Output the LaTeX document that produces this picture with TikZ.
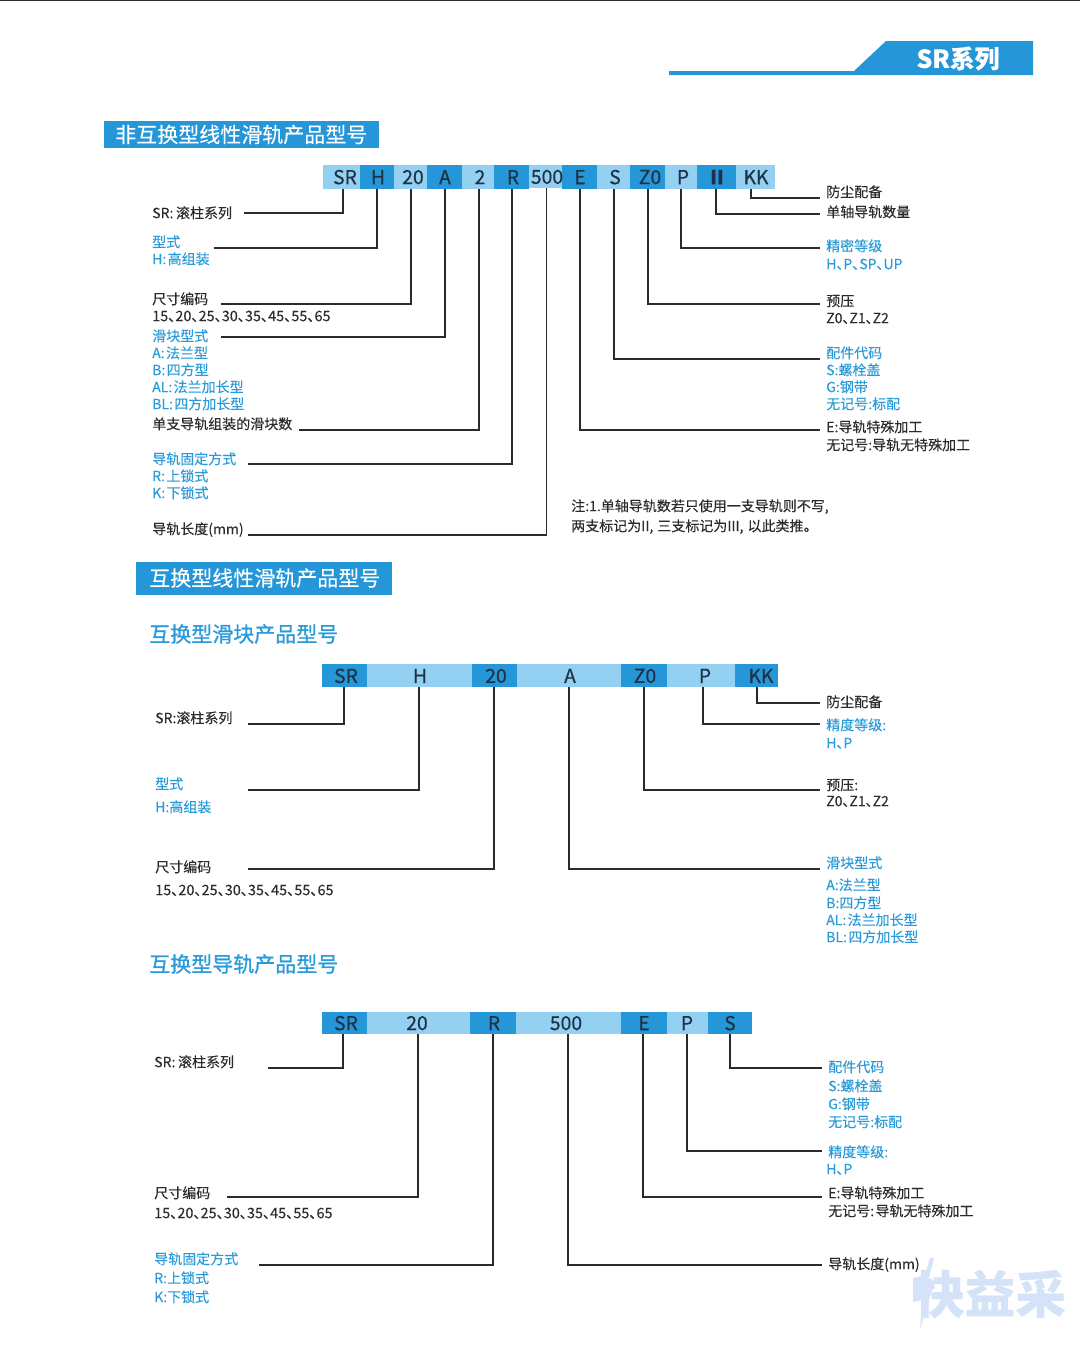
\documentclass[tikz,border=0pt]{standalone}
\usepackage{fontspec}
\setmainfont[RawFeature={+palt},FakeBold=0.12]{Noto Sans CJK SC}
\newfontfamily\subf[RawFeature={+palt},FakeBold=1.0]{Noto Sans CJK SC}
\newfontfamily\cellf[RawFeature={+palt},FakeBold=0.4]{Noto Sans CJK SC}
\definecolor{bluedark}{HTML}{2596D8}
\definecolor{bluelight}{HTML}{93D0F2}
\definecolor{bluetext}{HTML}{2A9BD8}
\definecolor{inkc}{HTML}{2B2B2B}
\definecolor{cellink}{HTML}{1F3245}
\definecolor{wm}{HTML}{D5E3F8}
\newcommand{\cn}{\hspace{1pt}}
\newcommand{\numfont}{\fontsize{10.8pt}{12pt}\selectfont}
\tikzset{
 lab/.style={anchor=west,inner sep=0pt,font=\fontsize{10.5pt}{12pt}\selectfont,text=inkc,text height=9.9pt,text depth=2.2pt},
 bluelab/.style={lab,text=bluetext},
 conn/.style={draw=inkc,line width=1.1pt,line join=miter},
 celltext/.style={inner sep=0pt,yshift=-0.3pt,font=\cellf\fontsize{14.5pt}{16pt}\selectfont,text=cellink},
 banner/.style={inner sep=0pt,font=\fontsize{15.75pt}{18pt}\selectfont,text=white,anchor=west},
 subtitle/.style={inner sep=0pt,anchor=west,font=\subf\fontsize{15.75pt}{18pt}\selectfont,text=bluetext},
}
% name, x0, x1, ytop, ybottom, fill, text x, text
\newcommand{\mycell}[8]{%
 \path[fill=#6] (#2,#4) rectangle (#3,#5);
 \path (#2,#4) -- (#3,#5) coordinate[midway] (#1-c);
 \node[inner sep=0pt,outer sep=0pt,minimum width=#3*0.75pt-#2*0.75pt,minimum height=#5*0.75pt-#4*0.75pt] (#1) at (#1-c) {};
 \node[celltext] (#1-t) at (#7,#4/2+#5/2) {#8};
}
\begin{document}
\begin{tikzpicture}[x=0.75pt,y=-0.75pt]
\useasboundingbox (0,0) rectangle (1080,1346);
% top rule and tab
\fill[inkc] (0,0) rectangle (1080,1.2);
\fill[bluedark] (669,71) -- (854,71) -- (886,41) -- (1033,41) -- (1033,75) -- (669,75) -- cycle;
\node[inner sep=0pt,font=\fontsize{18.6pt}{22pt}\selectfont\bfseries,text=white] (tab) at (958,58.5) {SR系列};

% ===== Section 1 =====
\fill[bluedark] (104,121) rectangle (379,148);
\node[banner] (h1) at (115,134.5) {非互换型线性滑轨产品型号};

\mycell{a1}{323}{360}{165}{188.5}{bluelight}{345}{SR}
\mycell{a2}{360}{394}{165}{188.5}{bluedark}{378}{H}
\mycell{a3}{394}{427}{165}{188.5}{bluelight}{413}{20}
\mycell{a4}{427}{462}{165}{188.5}{bluedark}{445}{A}
\mycell{a5}{462}{494}{165}{188.5}{bluelight}{480}{2}
\mycell{a6}{494}{529}{165}{188.5}{bluedark}{513}{R}
\mycell{a8}{562}{597}{165}{188.5}{bluedark}{580}{E}
\mycell{a7}{529}{562}{165}{188}{bluelight}{547}{500}
\mycell{a9}{597}{630}{165}{188.5}{bluelight}{615}{S}
\mycell{a10}{630}{665}{165}{188.5}{bluedark}{650}{Z0}
\mycell{a11}{665}{697}{165}{188.5}{bluelight}{683}{P}
\mycell{a12}{697}{736}{165}{188.5}{bluedark}{717}{\bfseries II}
\mycell{a13}{736}{775}{165}{188.5}{bluelight}{756}{KK}

\node[lab] (l1) at (152,213) {SR:\cn\cn 滚柱系列};
\node[bluelab] (l2a) at (152,242) {型式};
\node[bluelab] (l2b) at (152,259) {H:\cn 高组装};
\node[lab] (l3a) at (152,299) {尺寸编码};
\node[lab] (l3b) at (152,316) {\numfont 15、20、25、30、35、45、55、65};
\node[bluelab] (l4a) at (152,336) {滑块型式};
\node[bluelab] (l4b) at (152,353) {A:\cn 法兰型};
\node[bluelab] (l4c) at (152,370) {B:\cn 四方型};
\node[bluelab] (l4d) at (152,387) {AL:\cn 法兰加长型};
\node[bluelab] (l4e) at (152,404) {BL:\cn 四方加长型};
\node[lab] (l5) at (152,424) {单支导轨组装的滑块数};
\node[bluelab] (l6a) at (152,459) {导轨固定方式};
\node[bluelab] (l6b) at (152,476) {R:\cn 上锁式};
\node[bluelab] (l6c) at (152,493) {K:\cn 下锁式};
\node[lab] (l7) at (152,529) {导轨长度(mm)};

\node[lab] (r1) at (826,192) {防尘配备};
\node[lab] (r2) at (826,212) {单轴导轨数量};
\node[bluelab] (r3a) at (826,246) {精密等级};
\node[bluelab] (r3b) at (826,264) {H、P、SP、UP};
\node[lab] (r4a) at (826,301) {预压};
\node[lab] (r4b) at (826,318) {Z0、Z1、Z2};
\node[bluelab] (r5a) at (826,353) {配件代码};
\node[bluelab] (r5b) at (826,370) {S:螺栓盖};
\node[bluelab] (r5c) at (826,387) {G:钢带};
\node[bluelab] (r5d) at (826,404) {无记号:标配};
\node[lab] (r6a) at (826,427) {E:导轨特殊加工};
\node[lab] (r6b) at (826,445) {无记号:导轨无特殊加工};
\node[lab] (n1) at (571,506) {注:1.单轴导轨数若只使用一支导轨则不写,};
\node[lab] (n2) at (571,526) {两支标记为II,\hspace{3pt}三支标记为III,\hspace{3pt}以此类推。};

\coordinate (p1) at (244,213);
\coordinate (p2) at (214,248);
\coordinate (p3) at (221,304);
\coordinate (p4) at (221,337);
\coordinate (p5) at (299,430);
\coordinate (p6) at (248,464);
\coordinate (p7) at (248,535);
\coordinate (q1) at (820,198);
\coordinate (q2) at (820,214);
\coordinate (q3) at (820,248);
\coordinate (q4) at (820,304);
\coordinate (q5) at (820,359);
\coordinate (q6) at (820,430);
\draw[conn] (p1) -| (343,0 |- a1.south);
\draw[conn] (p2) -| (377,0 |- a2.south);
\draw[conn] (p3) -| (411,0 |- a3.south);
\draw[conn] (p4) -| (445,0 |- a4.south);
\draw[conn] (p5) -| (479,0 |- a5.south);
\draw[conn] (p6) -| (512,0 |- a6.south);
\draw[conn] (p7) -| (546.5,0 |- a7.south);
\draw[conn] (q1) -| (751,0 |- a13.south);
\draw[conn] (q2) -| (716,0 |- a12.south);
\draw[conn] (q3) -| (681,0 |- a11.south);
\draw[conn] (q4) -| (648,0 |- a10.south);
\draw[conn] (q5) -| (614,0 |- a9.south);
\draw[conn] (q6) -| (580,0 |- a8.south);

% ===== Section 2 =====
\fill[bluedark] (136,562) rectangle (392,595);
\node[banner] (h2) at (149,578) {互换型线性滑轨产品型号};
\node[subtitle] (s1) at (149,634) {互换型滑块产品型号};

\mycell{b1}{322}{367}{664}{687}{bluedark}{346}{SR}
\mycell{b2}{367}{472}{664}{687}{bluelight}{420}{H}
\mycell{b3}{472}{517}{664}{687}{bluedark}{496}{20}
\mycell{b4}{517}{621}{664}{687}{bluelight}{570}{A}
\mycell{b5}{621}{667}{664}{687}{bluedark}{645}{Z0}
\mycell{b6}{667}{735}{664}{687}{bluelight}{705}{P}
\mycell{b7}{735}{778}{664}{687}{bluedark}{761}{KK}

\node[lab] (m1) at (155,718) {SR:滚柱系列};
\node[bluelab] (m2a) at (155,784) {型式};
\node[bluelab] (m2b) at (155,807) {H:高组装};
\node[lab] (m3a) at (155,867) {尺寸编码};
\node[lab] (m3b) at (155,890) {\numfont 15、20、25、30、35、45、55、65};
\node[lab] (t1) at (826,702) {防尘配备};
\node[bluelab] (t2a) at (826,725) {精度等级:};
\node[bluelab] (t2b) at (826,743) {H、P};
\node[lab] (t3a) at (826,785) {预压:};
\node[lab] (t3b) at (826,801) {Z0、Z1、Z2};
\node[bluelab] (t4a) at (826,863) {滑块型式};
\node[bluelab] (t4b) at (826,885) {A:法兰型};
\node[bluelab] (t4c) at (826,903) {B:四方型};
\node[bluelab] (t4d) at (826,920) {AL:\cn 法兰加长型};
\node[bluelab] (t4e) at (826,937) {BL:\cn 四方加长型};

\coordinate (u1) at (248,724);
\coordinate (u2) at (248,790);
\coordinate (u3) at (248,869);
\coordinate (v1) at (820,703);
\coordinate (v2) at (820,724);
\coordinate (v3) at (820,790);
\coordinate (v4) at (820,869);
\draw[conn] (u1) -| (344,0 |- b1.south);
\draw[conn] (u2) -| (419,0 |- b2.south);
\draw[conn] (u3) -| (494,0 |- b3.south);
\draw[conn] (v4) -| (569,0 |- b4.south);
\draw[conn] (v3) -| (644,0 |- b5.south);
\draw[conn] (v2) -| (703,0 |- b6.south);
\draw[conn] (v1) -| (757,0 |- b7.south);

% ===== Section 3 =====
\node[subtitle] (s2) at (149,964) {互换型导轨产品型号};

\mycell{c1}{322}{367}{1012}{1033.5}{bluedark}{346}{SR}
\mycell{c2}{367}{470}{1012}{1033.5}{bluelight}{417}{20}
\mycell{c3}{470}{516}{1012}{1033.5}{bluedark}{494}{R}
\mycell{c4}{516}{621}{1012}{1033.5}{bluelight}{566}{500}
\mycell{c5}{621}{667}{1012}{1033.5}{bluedark}{644}{E}
\mycell{c6}{667}{708}{1012}{1033.5}{bluelight}{687}{P}
\mycell{c7}{708}{752}{1012}{1033.5}{bluedark}{730}{S}

\node[lab] (w1) at (154,1062) {SR:\cn\cn 滚柱系列};
\node[lab] (w2a) at (154,1193) {尺寸编码};
\node[lab] (w2b) at (154,1213) {\numfont 15、20、25、30、35、45、55、65};
\node[bluelab] (w3a) at (154,1259) {导轨固定方式};
\node[bluelab] (w3b) at (154,1278) {R:上锁式};
\node[bluelab] (w3c) at (154,1297) {K:下锁式};
\node[bluelab] (x1a) at (828,1067) {配件代码};
\node[bluelab] (x1b) at (828,1086) {S:螺栓盖};
\node[bluelab] (x1c) at (828,1104) {G:钢带};
\node[bluelab] (x1d) at (828,1122) {无记号:标配};
\node[bluelab] (x2a) at (828,1152) {精度等级:};
\node[bluelab] (x2b) at (826,1169) {H、P};
\node[lab] (x3a) at (828,1193) {E:导轨特殊加工};
\node[lab] (x3b) at (828,1211) {无记号:\cn 导轨无特殊加工};
\node[lab] (x4) at (828,1264) {导轨长度(mm)};

\coordinate (y1) at (268,1068);
\coordinate (y2) at (227,1197);
\coordinate (y3) at (259,1265);
\coordinate (z1) at (822,1068);
\coordinate (z2) at (822,1151);
\coordinate (z3) at (822,1197);
\coordinate (z4) at (822,1265);
\draw[conn] (y1) -| (343,0 |- c1.south);
\draw[conn] (y2) -| (418,0 |- c2.south);
\draw[conn] (y3) -| (493,0 |- c3.south);
\draw[conn] (z4) -| (568,0 |- c4.south);
\draw[conn] (z3) -| (643,0 |- c5.south);
\draw[conn] (z2) -| (687,0 |- c6.south);
\draw[conn] (z1) -| (730,0 |- c7.south);

% watermark
\node[inner sep=0pt,font=\fontsize{38pt}{40pt}\selectfont\bfseries,text=wm] (wmark) at (990,1294) {快益采};
\fill[wm] (930,1258) -- (934,1258) -- (926,1290) -- (932,1290) -- (920,1330) -- (922,1300) -- (913,1302) -- (913,1278) -- (925,1275) -- cycle;
\end{tikzpicture}
\end{document}
